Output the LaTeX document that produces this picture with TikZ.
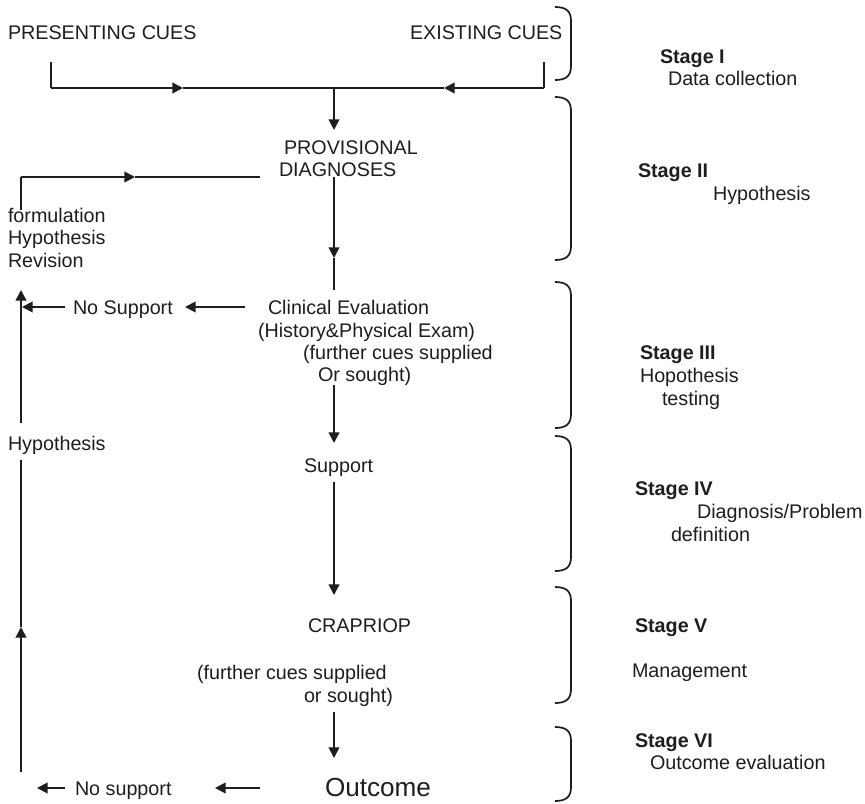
\documentclass[tikz,border=0pt]{standalone}
\usepackage{fontspec}
\setmainfont{Liberation Sans}
\usetikzlibrary{arrows.meta}
\definecolor{ink}{HTML}{1E1E1E}
\tikzset{
  lbl/.style={anchor=base west, inner sep=0pt, outer sep=0pt,
              font=\fontsize{14.8}{17}\selectfont, text=ink},
  stg/.style={lbl, font=\fontsize{14.8}{17}\selectfont\bfseries},
  big/.style={lbl, font=\fontsize{19.6}{23}\selectfont},
  wire/.style={line width=1.45pt, draw=ink},
  arr/.style={wire, -{Triangle[length=8pt,width=8pt]}},
  bracestroke/.style={line width=1.3pt, draw=ink},
}
% right-hand bracket grouping one stage: #1 top, #2 bottom
\newcommand\stagebrace[2]{%
  \draw[bracestroke] (555,#1) .. controls (566,#1) and (571,#1+4) .. (571,#1+14)
    -- (571,#2-14) .. controls (571,#2-4) and (566,#2) .. (555,#2);}
\begin{document}
\begin{tikzpicture}[x=0.75pt,y=-0.75pt]
  \fill[white] (0,0) rectangle (865,804);
  \useasboundingbox (0,0) rectangle (865,804);

  % --- flow texts ---
  \node[lbl] (pres) at (8,39) {PRESENTING CUES};
  \node[lbl] (exist) at (410,39) {EXISTING CUES};
  \node[lbl] (prov) at (284,154) {PROVISIONAL};
  \node[lbl] (diag) at (279,176) {DIAGNOSES};
  \node[lbl] (form) at (8,222) {formulation};
  \node[lbl] (hrev) at (8,244) {Hypothesis};
  \node[lbl] (rev) at (8,267) {Revision};
  \node[lbl] (clin) at (268,314) {Clinical Evaluation};
  \node[lbl] (hist) at (258,337) {(History\&Physical Exam)};
  \node[lbl] (fur1) at (303,359) {(further cues supplied};
  \node[lbl] (or1) at (318,381) {Or sought)};
  \node[lbl] (nosup) at (73,314) {No Support};
  \node[lbl] (hyp) at (8,450) {Hypothesis};
  \node[lbl] (sup) at (304,472) {Support};
  \node[lbl] (crap) at (308,632) {CRAPRIOP};
  \node[lbl] (fur2) at (197,679) {(further cues supplied};
  \node[lbl] (or2) at (304,702) {or sought)};
  \node[big] (out) at (325,796) {Outcome};
  \node[lbl] (nosup2) at (75,795) {No support};

  % --- stage labels ---
  \node[stg] (s1) at (660,63) {Stage I};
  \node[lbl] (s1t) at (668,85) {Data collection};
  \node[stg] (s2) at (638,177) {Stage II};
  \node[lbl] (s2t) at (713,200) {Hypothesis};
  \node[stg] (s3) at (640,359) {Stage III};
  \node[lbl] (s3t) at (640,382) {Hopothesis};
  \node[lbl] (s3u) at (662,405) {testing};
  \node[stg] (s4) at (635,495) {Stage IV};
  \node[lbl] (s4t) at (697,518) {Diagnosis/Problem};
  \node[lbl] (s4u) at (671,541) {definition};
  \node[stg] (s5) at (635,632) {Stage V};
  \node[lbl] (s5t) at (632,677) {Management};
  \node[stg] (s6) at (635,747) {Stage VI};
  \node[lbl] (s6t) at (650,769) {Outcome evaluation};

  % --- stage brackets ---
  \stagebrace{7}{80}
  \stagebrace{97}{260}
  \stagebrace{282}{428}
  \stagebrace{436}{571}
  \stagebrace{587}{703}
  \stagebrace{727}{801}

  % --- junction points ---
  \coordinate (presfoot) at (51,62);
  \coordinate (existfoot) at (544,62);
  \coordinate (presjoin) at (51,88);
  \coordinate (existjoin) at (544,88);
  \coordinate (presmid) at (183,88);
  \coordinate (existmid) at (444,88);
  \coordinate (merge) at (334,88);
  \coordinate (provtop) at (334,130);
  \coordinate (diagfoot) at (334,177);
  \coordinate (diagmid) at (334,258);
  \coordinate (clintop) at (334,290);
  \coordinate (or1foot) at (334,385);
  \coordinate (suptop) at (334,443);
  \coordinate (supfoot) at (334,482);
  \coordinate (craptop) at (334,595);
  \coordinate (or2foot) at (334,712);
  \coordinate (outtop) at (334,758);
  \coordinate (clinleft) at (245,307);
  \coordinate (nosupright) at (185,307);
  \coordinate (nosupleft) at (65,307);
  \coordinate (loopnosup) at (22,307);
  \coordinate (looptop) at (21,290);
  \coordinate (loopabovehyp) at (21,423);
  \coordinate (loopbelowhyp) at (21,460);
  \coordinate (loopmid) at (21,627);
  \coordinate (loopbottom) at (21,772);
  \coordinate (revtop) at (21,210);
  \coordinate (revcorner) at (21,177);
  \coordinate (revmid) at (135,177);
  \coordinate (revend) at (260,177);
  \coordinate (outleft) at (260,788);
  \coordinate (nosup2right) at (215,788);
  \coordinate (nosup2left) at (65,788);
  \coordinate (nosup2tip) at (37,788);

  % --- data collection ---
  \draw[wire] (presfoot) -- (presjoin);
  \draw[arr] (presjoin) -- (presmid);
  \draw[wire] (presmid) -- (existmid);
  \draw[wire] (existfoot) -- (existjoin);
  \draw[arr] (existjoin) -- (existmid);
  \draw[arr] (merge) -- (provtop);

  % --- main trunk ---
  \draw[arr] (diagfoot) -- (diagmid);
  \draw[wire] (diagmid) -- (clintop);
  \draw[arr] (or1foot) -- (suptop);
  \draw[arr] (supfoot) -- (craptop);
  \draw[arr] (or2foot) -- (outtop);

  % --- no support branches ---
  \draw[arr] (clinleft) -- (nosupright);
  \draw[arr] (nosupleft) -- (loopnosup);
  \draw[arr] (outleft) -- (nosup2right);
  \draw[arr] (nosup2left) -- (nosup2tip);

  % --- revision loop ---
  \draw[arr] (loopbottom) -- (loopmid);
  \draw[wire] (loopmid) -- (loopbelowhyp);
  \draw[arr] (loopabovehyp) -- (looptop);
  \draw[wire] (revtop) -- (revcorner);
  \draw[arr] (revcorner) -- (revmid);
  \draw[wire] (revmid) -- (revend);
\end{tikzpicture}
\end{document}
